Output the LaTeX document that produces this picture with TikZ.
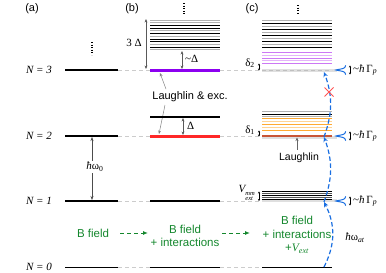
\documentclass[tikz,border=0pt]{standalone}
\usepackage{fontspec}
\setmainfont{Liberation Sans}
\newfontfamily\serif{Liberation Serif}
\usetikzlibrary{arrows.meta,calc}
\definecolor{vio}{RGB}{140,0,240}
\definecolor{lvio}{RGB}{205,120,245}
\definecolor{llvio}{RGB}{228,180,250}
\definecolor{myred}{RGB}{255,40,40}
\definecolor{brick}{RGB}{200,85,55}
\definecolor{org}{RGB}{255,170,50}
\definecolor{lorg}{RGB}{255,212,150}
\definecolor{grn}{RGB}{20,135,45}
\definecolor{blu}{RGB}{25,110,225}
\newcommand{\hb}{{\serif\itshape ħ}}
\begin{document}
\begin{tikzpicture}[x=1pt,y=-1pt,
  lvl/.style={line width=1.4pt},
  thinlvl/.style={line width=0.9pt},
  gdash/.style={gray!40,line width=0.9pt,dash pattern=on 4pt off 3pt},
  lab/.style={font=\fontsize{11}{13}\selectfont},
  nlab/.style={font=\serif\itshape\fontsize{11}{13}\selectfont},
  slab/.style={font=\serif\fontsize{11}{13}\selectfont,inner sep=1pt},
  glab/.style={font=\fontsize{11.5}{13.5}\selectfont,text=grn,align=center},
  dimarr/.style={gray!70!black,line width=0.5pt,{Stealth[length=3.5pt,width=2.8pt]}-{Stealth[length=3.5pt,width=2.8pt]}},
  ptrarr/.style={gray,line width=0.5pt,-{Stealth[length=3.5pt,width=2.8pt]}},
  tinyarr/.style={black,line width=0.6pt,{Stealth[length=2pt,width=2.2pt]}-{Stealth[length=2pt,width=2.2pt]}},
  bluarr/.style={blu,line width=1.2pt,dash pattern=on 4.5pt off 2.5pt,-{Stealth[length=5pt,width=4.5pt]}},
  grnarr/.style={grn,line width=1pt,dash pattern=on 4pt off 3pt,-{Latex[length=5pt,width=4pt]}},
  band/.style={gray!25,line width=3pt},
  dotcol/.style={line width=1.3pt,dash pattern=on 1pt off 1.6pt}
]
\useasboundingbox (0,0) rectangle (386,273);

% panel labels
\node[lab] (pa) at (32,9) {(a)};
\node[lab] (pb) at (132,9) {(b)};
\node[lab] (pc) at (252,9) {(c)};

% N labels
\node[nlab] (n3) at (39,70) {N = 3};
\node[nlab] (n2) at (39,136) {N = 2};
\node[nlab] (n1) at (39,201) {N = 1};
\node[nlab] (n0) at (39,267) {N = 0};

% vertical dots
\draw[dotcol] (92,42) -- (92,55);
\draw[dotcol] (184,3) -- (184,15);
\draw[dotcol] (298,5) -- (298,15);

% gray dashed connections
\foreach \y in {70,136,201,267}{
  \draw[gdash] (118,\y) -- (150,\y);
  \draw[gdash] (220,\y) -- (262,\y);
}

% ---- column (a)
\draw[lvl] (65,70) -- (118,70);
\draw[lvl] (65,136) -- (118,136);
\draw[lvl] (65,201) -- (118,201);
\draw[thinlvl] (65,267) -- (118,267);
\coordinate (a2) at (92,137);
\coordinate (a1) at (92,200);
\draw[black!70,line width=0.5pt,{Stealth[length=4pt,width=3pt]}-{Stealth[length=4pt,width=3pt]}] (a2) -- (a1);
\node[slab,fill=white,inner sep=1.5pt] (hw0) at (95,167) {\hb ω\textsubscript{0}};

% ---- column (b)
\foreach \y/\c in {20/gray!60,22.6/gray!60,25.2/black,28/black,30.8/gray!60,33.6/black,36.2/gray!60,39/black,41.8/black,44.4/gray!60,47.2/black,49.8/gray!60}{
  \draw[\c,line width=0.9pt] (150,\y) -- (220,\y);
}
\draw[vio,line width=3pt] (150,70) -- (220,70);
\coordinate (b3top) at (146,19);
\coordinate (b3bot) at (146,69);
\draw[dimarr] (b3top) -- (b3bot);
\node[slab] (d3) at (134,43) {3 Δ};
\coordinate (bsa) at (182,51);
\coordinate (bsb) at (182,69);
\draw[dimarr] (bsa) -- (bsb);
\node[slab,anchor=west] (dd) at (184,59) {\textasciitilde Δ};

\node[lab] (lexc) at (190,97) {Laughlin \& exc.};
\coordinate (lp) at (160,73);
\coordinate (lr) at (159,134);
\draw[ptrarr] (166,89) -- (lp);
\draw[ptrarr] (165,105) -- (lr);

\draw[lvl] (150,117) -- (220,117);
\draw[myred,line width=3pt] (150,136) -- (220,136);
\coordinate (bda) at (183,118);
\coordinate (bdb) at (183,135);
\draw[dimarr] (bda) -- (bdb);
\node[slab,anchor=west] (dl) at (186,126) {Δ};

\draw[lvl] (150,201) -- (220,201);
\draw[thinlvl] (150,267) -- (220,267);

% ---- column (c)
% bands
\draw[band] (262,70) -- (337,70);
\draw[band] (262,137.5) -- (337,137.5);
\draw[band] (262,200.5) -- (337,200.5);
\draw[gray!50,line width=0.8pt,dash pattern=on 4pt off 3pt] (262,70) -- (332,70);

\foreach \y/\c in {20/gray!60,23/black,26/gray!60,29/black,32/gray!60,35/black,38.5/gray!60,41.5/black,44.5/gray!60,47.5/black}{
  \draw[\c,line width=0.9pt] (262,\y) -- (332,\y);
}
\foreach \y/\c in {52.7/lvio,55.3/llvio,58.2/lvio,60.8/llvio,63.5/lvio}{
  \draw[\c,line width=1pt] (262,\y) -- (332,\y);
}
\foreach \y/\c in {111.7/gray!60,114/black,116.3/gray!60}{
  \draw[\c,line width=0.9pt] (262,\y) -- (332,\y);
}
\foreach \y/\c in {118.6/org,121.5/lorg,124.5/org,127.5/lorg,130.8/org}{
  \draw[\c,line width=1pt] (262,\y) -- (332,\y);
}
\draw[brick,line width=1.8pt] (262,136) -- (332,136);
\foreach \y/\c in {191.8/black,193.8/gray!70!black,195.8/black,197.8/gray!70!black,199.8/black}{
  \draw[\c,line width=0.8pt] (262,\y) -- (332,\y);
}
\draw[thinlvl] (262,267) -- (332,267);

% small splittings
\draw[tinyarr] (259,63.5) -- (259,70.5);
\node[slab,anchor=east] (del2) at (256,63) {δ\textsubscript{2}};
\draw[tinyarr] (259,130.5) -- (259,136.5);
\node[slab,anchor=east] (del1) at (256,130) {δ\textsubscript{1}};
\draw[tinyarr] (259,191.5) -- (259,201);
\node[slab,anchor=east,inner sep=0pt,font=\serif\itshape\fontsize{11}{13}\selectfont] (vext) at (255,194) {V\raisebox{-1.1ex}{\fontsize{6.5}{6.5}\selectfont\begin{tabular}{@{}l@{}}mm\\[-0.5ex]ext\end{tabular}}};

% Laughlin pointer in (c)
\node[lab,font=\fontsize{10.5}{12}\selectfont] (lau) at (299,158) {Laughlin};
\coordinate (lauT) at (297,137.5);
\draw[black!60,line width=0.5pt,-{Stealth[length=3.5pt,width=3pt]}] (lau.north -| lauT) -- (lauT);

% Lorentzians and linewidths
\foreach \y/\nm in {70/g3,136/g2,201/g1}{
  \draw[blu,line width=1pt,smooth,samples=25,domain=-4.7:4.7,variable=\t]
    plot ({346-10/(1+(\t/1.0)^2)},{\y+\t});
  \draw[tinyarr] (350,\y-4.5) -- (350,\y+4.5);
  \node[slab,anchor=west] (\nm) at (352,\y) {\textasciitilde\hb\,Γ\textsubscript{\itshape p}};
}

% blue transitions
\coordinate (t0) at (324,267);
\coordinate (t1) at (324,202);
\coordinate (t2) at (324,137);
\coordinate (t3) at (324,72);
\draw[bluarr] (t0) to[bend right=27] (t1);
\draw[bluarr] (t1) to[bend right=20] (t2);
\draw[bluarr] (t2) to[bend right=20] (t3);
\node[slab] (hwat) at (355,238) {\hb ω\textsubscript{\itshape at}};

% red cross
\coordinate (xc) at (329,92);
\draw[myred!80,line width=0.8pt] ($(xc)+(-4.5,-4.5)$) -- ($(xc)+(4.5,4.5)$);
\draw[myred!80,line width=0.8pt] ($(xc)+(-4.5,4.5)$) -- ($(xc)+(4.5,-4.5)$);

% green text
\node[glab] (bf1) at (93,233) {B field};
\node[glab] (bf2) at (185,236) {B field\\+ interactions};
\node[glab] (bf3) at (297,235) {B field\\+ interactions\\+{\serif\itshape V\textsubscript{ext}}};
\draw[grnarr] (bf1.east -| 120,0) -- (bf1.east -| 148,0);
\draw[grnarr] (bf1.east -| 222,0) -- (bf1.east -| 250,0);
\end{tikzpicture}
\end{document}
